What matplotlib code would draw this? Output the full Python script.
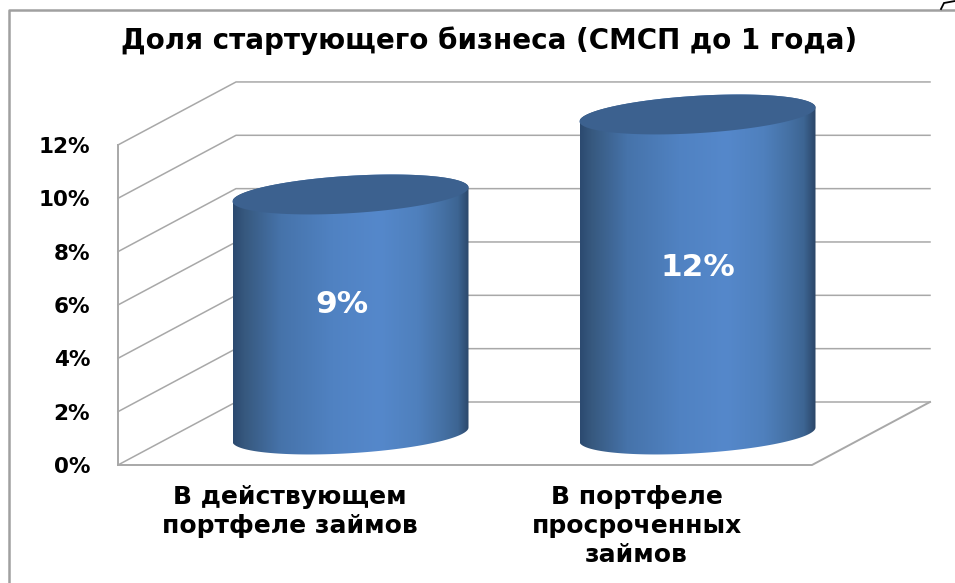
"""
Cylinder chart: share of start-up business in the loan portfolio.
Oblique 3D look is built by hand from a small projection helper.
"""

import numpy as np
import matplotlib.pyplot as plt
from matplotlib.colors import LinearSegmentedColormap
from matplotlib.patches import PathPatch, Polygon
from matplotlib.path import Path

title = "Доля стартующего бизнеса (СМСП до 1 года)"
categories = ["В действующем\nпортфеле займов", "В портфеле\nпросроченных\nзаймов"]
values = [9, 12]
value_labels = ["9%", "12%"]
ticks = [0, 2, 4, 6, 8, 10, 12]
tick_labels = ["0%", "2%", "4%", "6%", "8%", "10%", "12%"]

# Scale of the full-figure axes, in pixels per data unit
W, H = 955, 583
PX_X = 347.0
PX_Y = 26.67
X0_PX = 291.5
Y0_PX = 465.0

# Oblique depth of the box, in data units
DEPTH_X = 118 / PX_X
DEPTH_Y = 63 / PX_Y

GRID = "#a8a8a8"
SIDE_COLORS = ["#2c4a70", "#37597f", "#4673aa", "#5082c2", "#5588cb",
               "#4f80bd", "#4672a6", "#3d6593", "#2b4668"]
SIDE_STOPS = [0.0, 0.05, 0.2, 0.42, 0.62, 0.78, 0.88, 0.95, 1.0]
TOP_COLOR = "#3c618f"

# Nudges for the labels inside the bars, in pixels
LABEL_DX = [-9, 0]
LABEL_DY = [9, 6]


def project(x, v, depth=0.0):
    """Map category position, value and depth (0 front, 1 back) to axes data."""
    return x + depth * DEPTH_X, v + depth * DEPTH_Y


def ellipse(cx, cy, t):
    """Tilted cylinder rim, right side a little higher than the left."""
    a = 118 / PX_X
    b = 18.7 / PX_Y
    k = 7 / PX_Y
    return cx + a * np.cos(t), cy + b * np.sin(t) + k * np.cos(t)


def draw_cylinder(ax, x, value, cmap):
    cx, cy0 = project(x, 0, 0.5)
    cy0 -= 1 / PX_Y
    cy1 = cy0 + value

    # body outline: front half of the base rim, then back up over the top rim
    t_low = np.linspace(np.pi, 2 * np.pi, 80)
    bx, by = ellipse(cx, cy0, t_low)
    t_high = np.linspace(0, np.pi, 80)
    tx, ty = ellipse(cx, cy1, t_high)
    verts = np.column_stack([np.r_[bx, tx], np.r_[by, ty]])
    body = Polygon(verts, closed=True, facecolor="none", edgecolor="none")
    ax.add_patch(body)

    a = 118 / PX_X
    grad = np.linspace(0, 1, 256).reshape(1, -1)
    im = ax.imshow(grad, cmap=cmap, aspect="auto", zorder=3,
                   extent=(cx - a, cx + a, cy0 - 1, cy1 + 1))
    im.set_clip_path(body)

    # top rim
    t = np.linspace(0, 2 * np.pi, 160)
    ex, ey = ellipse(cx, cy1, t)
    rim = Path(np.column_stack([ex, ey]))
    ax.add_patch(PathPatch(rim, facecolor=TOP_COLOR, edgecolor="none", zorder=4))


fig = plt.figure(figsize=(W / 100, H / 100), dpi=100)
ax = fig.add_axes([0, 0, 1, 1])
ax.set_xlim(-X0_PX / PX_X, (W - X0_PX) / PX_X)
ax.set_ylim(-(H - Y0_PX) / PX_Y, Y0_PX / PX_Y)
ax.axis("off")

x_left, x_right = -0.5, 1.5

# outer chart frame (left and top edges only are visible)
ax.plot([9 / W, 9 / W, 1], [0, 1 - 10 / H, 1 - 10 / H], transform=ax.transAxes,
        color="#a0a0a0", lw=1.8, zorder=1, clip_on=False)

# stray stroke cut off by the top right corner of the picture
ax.plot([941 / W, 944 / W, 955 / W], [1 - 9 / H, 1 - 3 / H, 1 - 1 / H],
        transform=ax.transAxes, color="black", lw=1.3, zorder=2,
        solid_joinstyle="miter")

# gridlines on the side wall and back wall
for v in ticks:
    xs = [project(x_left, v)[0], project(x_left, v, 1)[0], project(x_right, v, 1)[0]]
    ys = [project(x_left, v)[1], project(x_left, v, 1)[1], project(x_right, v, 1)[1]]
    ax.plot(xs, ys, color=GRID, lw=1.1, zorder=2)

# front edge of the wall and the floor
ax.plot([x_left, x_left], [ticks[0], ticks[-1]], color=GRID, lw=1.4, zorder=2)
floor_x = [x_left, x_right, project(x_right, 0, 1)[0]]
floor_y = [0, 0, project(x_right, 0, 1)[1]]
ax.plot(floor_x, floor_y, color=GRID, lw=1.4, zorder=2)

cmap = LinearSegmentedColormap.from_list("cyl", list(zip(SIDE_STOPS, SIDE_COLORS)))
for i, val in enumerate(values):
    draw_cylinder(ax, i, val, cmap)

xlim, ylim = ax.get_xlim(), ax.get_ylim()

# value labels inside the bars
for i, (val, lab) in enumerate(zip(values, value_labels)):
    px, py = project(i, val / 2, 0.5)
    ax.text(px + LABEL_DX[i] / PX_X, py + LABEL_DY[i] / PX_Y, lab, color="white",
            fontsize=22.5, fontweight="bold", ha="center", va="center", zorder=5)

# y tick labels
for v, lab in zip(ticks, tick_labels):
    ax.text(x_left - 28 / PX_X, v - 2 / PX_Y, lab, fontsize=15.5, fontweight="bold",
            ha="right", va="center", color="black")

# category labels
for i, cat in enumerate(categories):
    ax.text(i - 2 / PX_X, -0.75, cat, fontsize=18, fontweight="bold", ha="center", va="top",
            color="black", linespacing=1.27)

fig.text(489 / W, 1 - 41 / H, title, fontsize=20, fontweight="bold",
         ha="center", va="center", color="black")

ax.set_xlim(xlim)
ax.set_ylim(ylim)
fig.savefig("out.png", dpi=100)
